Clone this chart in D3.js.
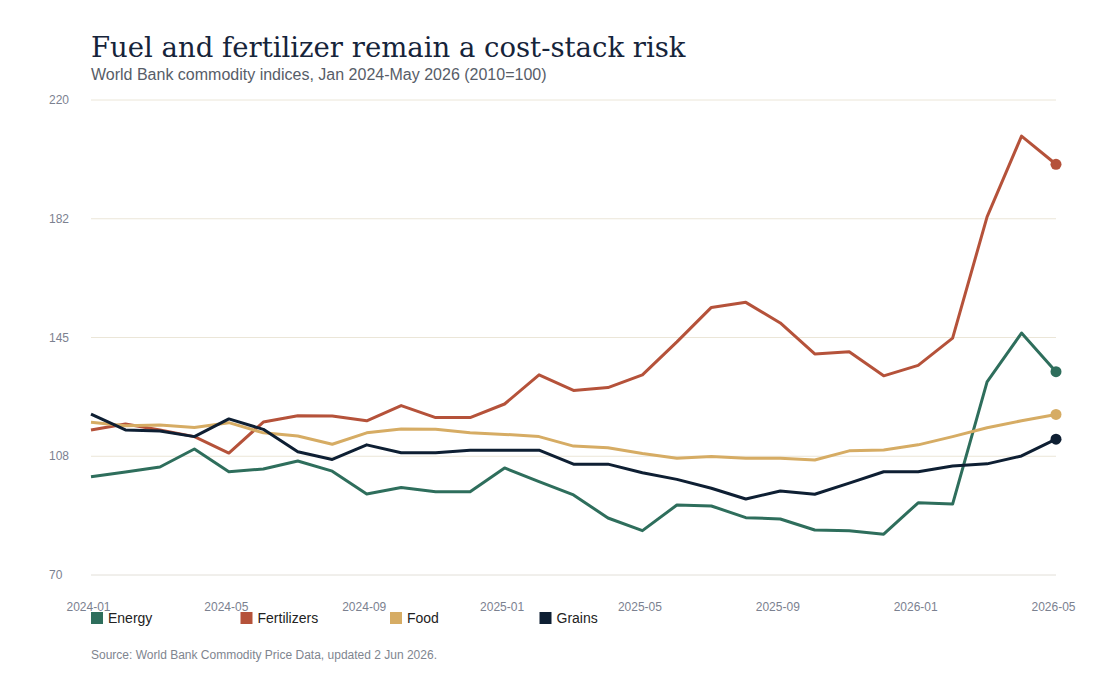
<!DOCTYPE html>
<html>
<head>
<meta charset="utf-8">
<script src="https://cdn.jsdelivr.net/npm/d3@7"></script>
<style>
  body { margin: 0; background: #fff; }
  svg { display: block; }
</style>
</head>
<body>
<script>
// Data (index, 2010=100)
var months = ["2024-01","2024-02","2024-03","2024-04","2024-05","2024-06","2024-07","2024-08","2024-09","2024-10","2024-11","2024-12",
  "2025-01","2025-02","2025-03","2025-04","2025-05","2025-06","2025-07","2025-08","2025-09","2025-10","2025-11","2025-12",
  "2026-01","2026-02","2026-03","2026-04","2026-05"];

var energy = [101.0, 102.5, 104.1, 109.8, 102.6, 103.5, 106.0, 102.8, 95.6, 97.6, 96.3, 96.3,
  103.8, 99.5, 95.3, 88.0, 84.0, 92.1, 91.8, 88.1, 87.7, 84.2, 84.0, 82.9,
  92.8, 92.4, 131.0, 146.4, 134.2];
var fertilizers = [115.8, 117.7, 115.8, 113.7, 108.5, 118.3, 120.3, 120.2, 118.7, 123.5, 119.7, 119.7,
  124.0, 133.2, 128.3, 129.2, 133.2, 143.6, 154.5, 156.1, 149.6, 139.8, 140.5, 132.9,
  136.2, 144.8, 183.1, 208.6, 199.7];
var food = [118.2, 117.1, 117.4, 116.6, 118.1, 114.9, 113.9, 111.3, 114.9, 116.1, 116.0, 114.9,
  114.4, 113.7, 110.7, 110.2, 108.4, 106.9, 107.4, 106.9, 106.9, 106.3, 109.2, 109.5,
  111.1, 113.7, 116.5, 118.7, 120.7];
var grains = [120.8, 115.8, 115.5, 113.7, 119.3, 116.0, 108.9, 106.5, 111.1, 108.6, 108.6, 109.4,
  109.4, 109.4, 105.0, 105.0, 102.3, 100.2, 97.4, 94.0, 96.5, 95.5, 99.0, 102.6,
  102.6, 104.4, 105.1, 107.6, 112.9];

var seriesNames = ["Energy", "Fertilizers", "Food", "Grains"];
var seriesColors = ["#2e6e5c", "#b5523a", "#d6ac64", "#0e1f33"];

var yTicks = [70, 107.5, 145, 182.5, 220];
var yTickLabels = ["70", "108", "145", "182", "220"];
var xTickLabels = ["2024-01", "2024-05", "2024-09", "2025-01", "2025-05", "2025-09", "2026-01", "2026-05"];

// Chart Params
var svgWidth = 1100;
var svgHeight = 680;
var margin = { top: 100, right: 44, bottom: 105, left: 91 };
var width = svgWidth - margin.left - margin.right;
var height = svgHeight - margin.top - margin.bottom;

var svg = d3.select("body")
  .append("svg")
  .attr("width", svgWidth)
  .attr("height", svgHeight);

// title + subtitle
svg.append("text")
  .attr("x", margin.left)
  .attr("y", 57)
  .attr("font-family", "'DejaVu Serif', Georgia, serif")
  .attr("font-size", "27.5px")
  .attr("fill", "#16243a")
  .text("Fuel and fertilizer remain a cost-stack risk");

svg.append("text")
  .attr("x", margin.left)
  .attr("y", 80)
  .attr("font-family", "'Liberation Sans', Arial, sans-serif")
  .attr("font-size", "16px")
  .attr("fill", "#575d68")
  .text("World Bank commodity indices, Jan 2024-May 2026 (2010=100)");

var chartGroup = svg.append("g")
  .attr("transform", `translate(${margin.left}, ${margin.top})`);

var xScale = d3.scalePoint()
  .domain(months)
  .range([0, width]);

var yScale = d3.scaleLinear()
  .domain([70, 220])
  .range([height, 0]);

// gridlines
chartGroup.selectAll(".grid")
  .data(yTicks)
  .enter()
  .append("line")
  .attr("x1", 0)
  .attr("x2", width)
  .attr("y1", d => yScale(d))
  .attr("y2", d => yScale(d))
  .attr("stroke", (d, i) => i === 0 ? "#e2dfd8" : "#ebe6d8")
  .attr("stroke-width", 1);

// y labels (left aligned)
chartGroup.selectAll(".ylab")
  .data(yTicks)
  .enter()
  .append("text")
  .attr("x", -42)
  .attr("y", d => yScale(d) + 4)
  .attr("font-family", "'Liberation Sans', Arial, sans-serif")
  .attr("font-size", "12px")
  .attr("fill", "#7b8190")
  .text((d, i) => yTickLabels[i]);

// x axis
var bottomAxis = d3.axisBottom(xScale)
  .tickValues(xTickLabels)
  .tickSize(0)
  .tickPadding(27);

var xAxis = chartGroup.append("g")
  .attr("transform", `translate(0, ${height})`)
  .call(bottomAxis);
xAxis.select(".domain").remove();
xAxis.selectAll("text")
  .attr("font-family", "'Liberation Sans', Arial, sans-serif")
  .attr("font-size", "12px")
  .attr("fill", "#7b8190")
  .attr("dx", "-3");

// lines
var allSeries = [energy, fertilizers, food, grains];
var line = d3.line()
  .x((d, i) => xScale(months[i]))
  .y(d => yScale(d));

chartGroup.selectAll(".series")
  .data(allSeries)
  .enter()
  .append("path")
  .attr("d", d => line(d))
  .attr("fill", "none")
  .attr("stroke", (d, i) => seriesColors[i])
  .attr("stroke-width", 3)
  .attr("stroke-linejoin", "round");

// end dots
chartGroup.selectAll(".enddot")
  .data(allSeries)
  .enter()
  .append("circle")
  .attr("cx", xScale(months[months.length - 1]))
  .attr("cy", d => yScale(d[d.length - 1]))
  .attr("r", 5.5)
  .attr("fill", (d, i) => seriesColors[i]);

// legend
var legend = svg.append("g")
  .attr("transform", `translate(${margin.left}, 612)`);

var items = legend.selectAll("g")
  .data(seriesNames)
  .enter()
  .append("g")
  .attr("transform", (d, i) => `translate(${i * 149.5}, 0)`);

items.append("rect")
  .attr("width", 12)
  .attr("height", 12)
  .attr("fill", (d, i) => seriesColors[i]);

items.append("text")
  .attr("x", 17)
  .attr("y", 11)
  .attr("font-family", "'Liberation Sans', Arial, sans-serif")
  .attr("font-size", "14px")
  .attr("fill", "#222")
  .text(d => d);

// source
svg.append("text")
  .attr("x", margin.left)
  .attr("y", 659)
  .attr("font-family", "'Liberation Sans', Arial, sans-serif")
  .attr("font-size", "12px")
  .attr("fill", "#80858f")
  .text("Source: World Bank Commodity Price Data, updated 2 Jun 2026.");
</script>
</body>
</html>
